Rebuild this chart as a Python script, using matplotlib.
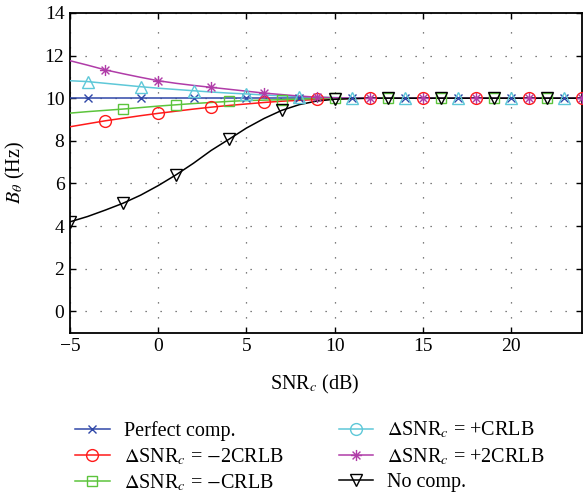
import matplotlib
matplotlib.use("Agg")
import matplotlib.pyplot as plt
from matplotlib.lines import Line2D
from matplotlib.path import Path
import numpy as np

plt.rcParams['font.family'] = ['Liberation Serif', 'DejaVu Serif']
plt.rcParams['mathtext.fontset'] = 'stix'

snr = list(range(-5, 25))
perfect = [10.0] * 30
minus2 = [8.66, 8.80, 8.94, 9.06, 9.18, 9.29, 9.39, 9.49, 9.58, 9.66, 9.73, 9.80, 9.86, 9.90, 9.94,
          9.97, 9.99] + [10.0] * 13
minus1 = [9.30, 9.37, 9.43, 9.49, 9.56, 9.63, 9.69, 9.75, 9.80, 9.85, 9.89, 9.91, 9.93, 9.96, 9.98,
          9.99] + [10.0] * 14
plus1 = [10.82, 10.78, 10.70, 10.62, 10.54, 10.47, 10.41, 10.35, 10.29, 10.24, 10.20, 10.15, 10.11,
         10.08, 10.05, 10.03, 10.01] + [10.0] * 13
plus2 = [11.76, 11.55, 11.33, 11.15, 10.98, 10.82, 10.70, 10.60, 10.51, 10.42, 10.33, 10.24, 10.17,
         10.10, 10.05, 10.02, 10.01] + [10.0] * 13
nocomp = [4.20, 4.45, 4.75, 5.07, 5.45, 5.90, 6.40, 6.95, 7.55, 8.07, 8.60, 9.05, 9.43, 9.70, 9.87,
          9.95, 9.98] + [10.0] * 13

labels = ['Perfect comp.', r'$\Delta$SNR$_c$ = $-$2CRLB', r'$\Delta$SNR$_c$ = $-$CRLB',
          r'$\Delta$SNR$_c$ = +CRLB', r'$\Delta$SNR$_c$ = +2CRLB', 'No comp.']
xticks = [-5, 0, 5, 10, 15, 20]
yticks = [0, 2, 4, 6, 8, 10, 12, 14]

# asterisk marker (8 spokes)
d = 0.7071
verts = [(-1, 0), (1, 0), (0, -1), (0, 1), (-d, -d), (d, d), (-d, d), (d, -d)]
codes = [Path.MOVETO, Path.LINETO] * 4
asterisk = Path(verts, codes)

series = [
    (perfect, '#3048a8', 'x', 1, 3, 5.5),
    (minus2, '#ff1a1a', 'o', 2, 3, 8.5),
    (minus1, '#5cc43c', 's', 3, 3, 7),
    (plus1, '#5ec8d8', '^', 1, 3, 9),
    (plus2, '#b03ca8', asterisk, 2, 3, 8),
    (nocomp, '#000000', 'v', 0, 3, 9),
]
legend_markers = ['x', 'o', 's', 'o', asterisk, 'v']
legend_ms = [5.5, 8.5, 7, 8.5, 8, 9]

fig = plt.figure(figsize=(5.83, 4.98), dpi=100)
ax = fig.add_axes([0.120, 0.332, 0.878, 0.642])

snr_arr = np.array(snr)
for (vals, col, mk, start, step, ms) in series:
    ax.plot(snr_arr, vals, color=col, lw=1.1, zorder=3)
    idx = list(range(start, len(snr), step))
    ax.plot(snr_arr[idx], np.array(vals)[idx], linestyle='none', marker=mk, ms=ms,
            markerfacecolor='none', markeredgecolor=col, markeredgewidth=1.0, zorder=4)

ax.set_xlim(-5, 24)
ax.set_ylim(-1, 14)
ax.set_xticks(xticks)
ax.set_yticks(yticks)
ax.set_xticklabels([str(t).replace('-', '\u2212') for t in xticks])
ax.tick_params(direction='in', top=True, right=True, labelsize=14, length=4, width=1.0, pad=4)
for s in ax.spines.values():
    s.set_linewidth(1.3)
ax.grid(True, color='#555555', linestyle=(0, (1, 11)), linewidth=0.9)
ax.set_xlabel(r'SNR$_c$ (dB)', fontsize=14.5)
ax.set_ylabel(r'$B_\theta$ (Hz)', fontsize=14.5)
ax.xaxis.set_label_coords(0.478, -0.125)
ax.yaxis.set_label_coords(-0.084, 0.5)

handles = []
for (vals, col, mk, start, step, ms), lm, lms in zip(series, legend_markers, legend_ms):
    handles.append(Line2D([], [], color=col, lw=1.1, marker=lm, ms=lms,
                          markerfacecolor='none', markeredgecolor=col, markeredgewidth=1.0))
fig.legend(handles, labels, loc='upper left', bbox_to_anchor=(0.112, 0.177), ncol=2, frameon=False,
           fontsize=14.5, handlelength=1.7, columnspacing=2.75, labelspacing=0.28, handletextpad=0.7,
           borderpad=0.0)

fig.savefig('out.png', dpi=100)
